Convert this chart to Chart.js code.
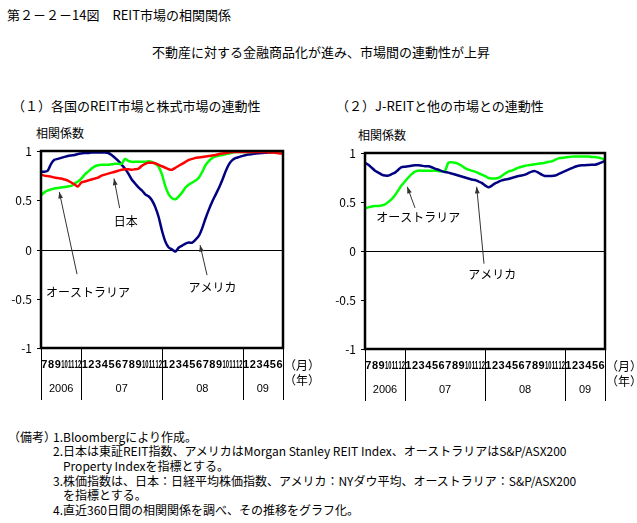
<!DOCTYPE html>
<html>
<head>
<meta charset="utf-8">
<script src="https://cdn.jsdelivr.net/npm/chart.js@4.4.0/dist/chart.umd.min.js"></script>
<style>
  body { margin: 0; background: #fff; width: 637px; height: 523px; position: relative; overflow: hidden;
         font-family: "Noto Sans CJK JP", sans-serif; color: #000; }
  .t { position: absolute; white-space: nowrap; line-height: 1; font-weight: 400; }
  canvas { position: absolute; }
</style>
</head>
<body>
<div class="t" style="left:7px;top:8px;font-size:13px">第２－２－14図　REIT市場の相関関係</div>
<div class="t" style="left:152px;top:45px;font-size:13px">不動産に対する金融商品化が進み、市場間の連動性が上昇</div>
<div class="t" style="left:12px;top:99px;font-size:13px">（１）各国のREIT市場と株式市場の連動性</div>
<div class="t" style="left:336px;top:99px;font-size:13px">（２）J-REITと他の市場との連動性</div>
<div class="t" style="left:36px;top:127px;font-size:12px">相関係数</div>
<div class="t" style="left:358px;top:129px;font-size:12px">相関係数</div>

<div class="t" style="left:8px;top:431px;font-size:12px">（備考）</div>
<div class="t" style="left:53px;top:431px;font-size:12px">1.Bloombergにより作成。</div>
<div class="t" style="left:53px;top:445px;font-size:12px">2.日本は東証REIT指数、アメリカはMorgan Stanley REIT Index、オーストラリアはS&amp;P/ASX200</div>
<div class="t" style="left:63px;top:460px;font-size:12px">Property Indexを指標とする。</div>
<div class="t" style="left:53px;top:475px;font-size:12px">3.株価指数は、日本：日経平均株価指数、アメリカ：NYダウ平均、オーストラリア：S&amp;P/ASX200</div>
<div class="t" style="left:63px;top:489px;font-size:12px">を指標とする。</div>
<div class="t" style="left:53px;top:504px;font-size:12px">4.直近360日間の相関関係を調べ、その推移をグラフ化。</div>

<canvas id="leftChart" width="320" height="290" style="left:0;top:118px"></canvas>
<canvas id="rightChart" width="317" height="290" style="left:320px;top:118px"></canvas>

<script>
// 2006年7月〜2009年6月、半月ごとの読み取り値
const monthLabels = ["7","8","9","10","11","12",
  "1","2","3","4","5","6","7","8","9","10","11","12",
  "1","2","3","4","5","6","7","8","9","10","11","12",
  "1","2","3","4","5","6"];
const yearLabels = ["2006", "07", "08", "09"];
const yearStarts = [0, 6, 18, 30, 36];
const yTicks = [1, 0.5, 0, -0.5, -1];
const yTickLabels = ["1", "0.5", "0", "-0.5", "-1"];

// (1) 各国のREIT市場と株式市場
const leftAmerica = [
  0.79,0.79,0.80,0.87,0.91,0.92,0.93,0.94,0.95,0.955,
  0.96,0.97,0.975,0.98,0.98,0.985,0.985,0.985,0.985,0.985,
  0.98,0.96,0.93,0.90,0.86,0.82,0.77,0.71,0.67,0.63,
  0.60,0.56,0.54,0.50,0.43,0.33,0.19,0.08,0.02,0.00,
  -0.02,0.02,0.04,0.06,0.07,0.07,0.10,0.14,0.22,0.32,
  0.41,0.49,0.56,0.63,0.71,0.80,0.87,0.91,0.93,0.94,
  0.95,0.96,0.965,0.97,0.975,0.977,0.98,0.982,0.985,0.987,
  0.99,0.99,0.99];
const leftJapan = [
  0.76,0.75,0.745,0.74,0.73,0.725,0.72,0.71,0.70,0.68,
  0.66,0.64,0.68,0.69,0.70,0.71,0.72,0.73,0.75,0.76,
  0.77,0.78,0.79,0.80,0.81,0.815,0.815,0.81,0.815,0.82,
  0.85,0.87,0.88,0.88,0.875,0.86,0.845,0.83,0.815,0.81,
  0.83,0.85,0.87,0.89,0.91,0.92,0.93,0.935,0.94,0.945,
  0.95,0.955,0.96,0.97,0.975,0.98,0.985,0.99,0.99,0.99,
  0.99,0.99,0.99,0.99,0.99,0.99,0.99,0.99,0.985,0.985,
  0.98,0.975,0.975];
const leftAustralia = [
  0.55,0.58,0.60,0.61,0.62,0.625,0.63,0.635,0.64,0.645,
  0.67,0.69,0.72,0.76,0.79,0.82,0.845,0.855,0.86,0.86,
  0.86,0.865,0.87,0.87,0.87,0.92,0.90,0.89,0.89,0.89,
  0.89,0.89,0.895,0.89,0.87,0.84,0.76,0.64,0.56,0.52,
  0.51,0.54,0.58,0.63,0.66,0.68,0.70,0.73,0.79,0.86,
  0.90,0.93,0.945,0.955,0.96,0.97,0.975,0.985,0.99,0.99,
  0.99,0.99,0.99,0.99,0.995,0.995,0.995,0.995,0.99,0.99,
  0.99,0.99,0.99];

// (2) J-REITと他の市場
const rightAmerica = [
  0.90,0.88,0.85,0.82,0.80,0.78,0.77,0.77,0.785,0.80,
  0.83,0.855,0.86,0.865,0.87,0.875,0.875,0.87,0.865,0.865,
  0.855,0.84,0.83,0.815,0.805,0.80,0.79,0.78,0.77,0.76,
  0.75,0.74,0.73,0.725,0.71,0.695,0.67,0.65,0.665,0.69,
  0.705,0.72,0.73,0.735,0.745,0.755,0.765,0.77,0.78,0.795,
  0.81,0.815,0.80,0.78,0.765,0.765,0.765,0.77,0.785,0.80,
  0.815,0.83,0.845,0.86,0.87,0.875,0.875,0.878,0.88,0.88,
  0.89,0.905,0.92];
const rightAustralia = [
  0.435,0.445,0.455,0.46,0.46,0.465,0.475,0.50,0.53,0.57,
  0.62,0.67,0.71,0.75,0.785,0.81,0.82,0.82,0.82,0.82,
  0.82,0.82,0.815,0.815,0.815,0.90,0.905,0.90,0.89,0.87,
  0.845,0.83,0.82,0.81,0.795,0.78,0.765,0.745,0.74,0.74,
  0.745,0.765,0.79,0.81,0.82,0.835,0.85,0.86,0.87,0.875,
  0.88,0.885,0.89,0.895,0.90,0.91,0.915,0.93,0.945,0.95,
  0.955,0.96,0.963,0.965,0.965,0.965,0.965,0.965,0.96,0.958,
  0.955,0.945,0.935];

// 矢印付きの注記（データ座標）
const leftNotes = [
  { text: "日本", tip: [10.86, 0.72], tail: [11.7, 0.42], label: [12.6, 0.28] },
  { text: "オーストラリア", tip: [2.72, 0.585], tail: [5.36, -0.25], label: [7.0, -0.435] },
  { text: "アメリカ", tip: [23.66, 0.045], tail: [24.7, -0.26], label: [25.5, -0.39] }
];
const rightNotes = [
  { text: "オーストラリア", tip: [6.34, 0.655], tail: [7.5, 0.44], label: [8.0, 0.345] },
  { text: "アメリカ", tip: [16.75, 0.655], tail: [17.85, -0.13], label: [19.1, -0.235] }
];

const NAVY = "#000080", GREEN = "#00ff00", RED = "#ff0000";
const JP_FONT = "'Noto Sans CJK JP', sans-serif";

function toPoints(values) {
  return values.map((v, i) => ({ x: i * 0.5, y: v }));
}

const decorPlugin = {
  id: "decor",
  beforeDatasetsDraw(chart) {
    const { ctx, chartArea: a, scales: { y } } = chart;
    const y0 = Math.round(y.getPixelForValue(0)) + 0.5;
    ctx.save();
    ctx.strokeStyle = "#000";
    ctx.lineWidth = 1;
    ctx.beginPath();
    ctx.moveTo(a.left, y0);
    ctx.lineTo(a.right, y0);
    ctx.stroke();
    ctx.restore();
  },
  afterDatasetsDraw(chart, args, opts) {
    const { ctx, chartArea: a, scales: { x, y } } = chart;
    ctx.save();

    // 枠
    ctx.strokeStyle = "#000";
    ctx.lineWidth = 2.5;
    ctx.strokeRect(a.left, a.top, a.right - a.left, a.bottom - a.top);

    // y軸目盛
    ctx.lineWidth = 1;
    ctx.fillStyle = "#000";
    ctx.font = "12px " + JP_FONT;
    ctx.textAlign = "right";
    ctx.textBaseline = "middle";
    yTicks.forEach((v, i) => {
      const py = Math.round(y.getPixelForValue(v)) + 0.5;
      ctx.beginPath();
      ctx.moveTo(a.left - 4, py);
      ctx.lineTo(a.left, py);
      ctx.stroke();
      ctx.fillText(yTickLabels[i], a.left - 9, py);
    });

    // 年の区切り線
    const lineBottom = a.bottom + 52;
    yearStarts.forEach(m => {
      const px = Math.round(x.getPixelForValue(m)) + 0.5;
      ctx.beginPath();
      ctx.moveTo(px, a.bottom);
      ctx.lineTo(px, lineBottom);
      ctx.stroke();
    });

    // 月ラベル
    ctx.textAlign = "center";
    ctx.font = "bold 11px 'Liberation Sans', sans-serif";
    const slot = x.getPixelForValue(1) - x.getPixelForValue(0);
    monthLabels.forEach((lab, i) => {
      ctx.fillText(lab, x.getPixelForValue(i + 0.5), a.bottom + 17, slot - 0.2);
    });

    // 年ラベル
    ctx.font = "11px 'Liberation Sans', sans-serif";
    yearLabels.forEach((lab, i) => {
      const cx = (x.getPixelForValue(yearStarts[i]) + x.getPixelForValue(yearStarts[i + 1])) / 2;
      ctx.fillText(lab, cx, a.bottom + 41);
    });

    ctx.textAlign = "left";
    ctx.font = "12px " + JP_FONT;
    ctx.fillText("（月）", a.right + 1, a.bottom + 17);
    ctx.fillText("（年）", a.right + 1, a.bottom + 32);

    // 注記と矢印
    (opts.notes || []).forEach(n => {
      const tx = x.getPixelForValue(n.tip[0]), ty = y.getPixelForValue(n.tip[1]);
      const sx = x.getPixelForValue(n.tail[0]), sy = y.getPixelForValue(n.tail[1]);
      ctx.strokeStyle = "#333";
      ctx.fillStyle = "#333";
      ctx.lineWidth = 1;
      ctx.beginPath();
      ctx.moveTo(sx, sy);
      ctx.lineTo(tx, ty);
      ctx.stroke();
      const ang = Math.atan2(ty - sy, tx - sx);
      ctx.beginPath();
      ctx.moveTo(tx, ty);
      ctx.lineTo(tx - 7 * Math.cos(ang - 0.35), ty - 7 * Math.sin(ang - 0.35));
      ctx.lineTo(tx - 7 * Math.cos(ang + 0.35), ty - 7 * Math.sin(ang + 0.35));
      ctx.closePath();
      ctx.fill();
      ctx.fillStyle = "#000";
      ctx.textAlign = "center";
      ctx.fillText(n.text, x.getPixelForValue(n.label[0]), y.getPixelForValue(n.label[1]));
    });
    ctx.restore();
  }
};

function makeChart(id, datasets, notes, padding) {
  return new Chart(document.getElementById(id), {
    type: "line",
    data: {
      datasets: datasets.map(d => ({
        label: d.label,
        data: toPoints(d.values),
        borderColor: d.color,
        borderWidth: 2.5,
        pointRadius: 0,
        tension: 0.25,
        fill: false,
        order: d.order
      }))
    },
    options: {
      responsive: false,
      animation: false,
      events: [],
      layout: { padding },
      scales: {
        x: { type: "linear", min: 0, max: 36, display: false },
        y: { type: "linear", min: -1, max: 1, display: false }
      },
      plugins: {
        legend: { display: false },
        tooltip: { enabled: false },
        decor: { notes }
      }
    },
    plugins: [decorPlugin]
  });
}

makeChart("leftChart", [
  { label: "日本", values: leftJapan, color: RED, order: 1 },
  { label: "オーストラリア", values: leftAustralia, color: GREEN, order: 2 },
  { label: "アメリカ", values: leftAmerica, color: NAVY, order: 3 }
], leftNotes, { left: 41, top: 33, right: 37, bottom: 60 });

makeChart("rightChart", [
  { label: "アメリカ", values: rightAmerica, color: NAVY, order: 1 },
  { label: "オーストラリア", values: rightAustralia, color: GREEN, order: 2 }
], rightNotes, { left: 45, top: 35, right: 32, bottom: 59 });
</script>
</body>
</html>
